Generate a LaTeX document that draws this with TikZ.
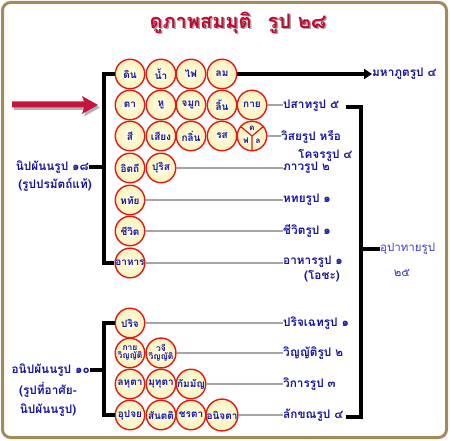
\documentclass[tikz,border=0pt]{standalone}
\usepackage{fontspec}
\newfontfamily\thai[Script=Thai]{Loma}
\usetikzlibrary{arrows.meta,calc}
\definecolor{lbl}{RGB}{20,20,160}
\definecolor{lbl2}{RGB}{60,60,210}
\definecolor{cin}{RGB}{255,255,235}
\definecolor{cout}{RGB}{248,242,185}
\definecolor{cred}{RGB}{225,25,25}
\definecolor{framec}{RGB}{160,140,90}
\definecolor{ttl}{RGB}{190,10,50}
\definecolor{gline}{RGB}{165,165,165}
\definecolor{arred}{RGB}{200,20,60}
\begin{document}
\begin{tikzpicture}[x=1pt,y=-1pt,
 cir/.style={circle,draw=cred,line width=1.4pt,inner color=cin,outer color=cout,minimum size=29.5pt,inner sep=0pt,text=lbl,font=\thai\bfseries\fontsize{10}{10}\selectfont},
 cir2/.style={cir,align=center,font=\thai\bfseries\fontsize{8.5}{8}\selectfont},
 lab/.style={anchor=west,text=lbl,font=\thai\bfseries\fontsize{11.8}{12}\selectfont,inner sep=0pt},
 labl/.style={lab,anchor=east},
 ctxt/.style={text=lbl,font=\thai\bfseries\fontsize{8}{8}\selectfont,inner sep=0pt},
 blk/.style={line width=4pt},
 gry/.style={draw=gline,line width=2pt}]
\useasboundingbox[fill=white] (0,0) rectangle (450,441);
\draw[framec,line width=3pt,rounded corners=8pt] (2.5,2.5) rectangle (446.5,437.5);
% title
\node[text=black!35,font=\thai\bfseries\fontsize{20}{22}\selectfont] at (239.5,24) {ดูภาพสมมุติ\hspace{0.8em}รูป ๒๘};
\node[text=ttl,font=\thai\bfseries\fontsize{20}{22}\selectfont] (title) at (238,22.5) {ดูภาพสมมุติ\hspace{0.8em}รูป ๒๘};
% red arrow with shadow
\fill[black!30] (14,104) -- (86,104) -- (84,98.5) -- (100,107.5) -- (84,116.5) -- (86,110) -- (14,110) -- cycle;
\fill[arred] (12,101.5) -- (84,101.5) -- (82,96) -- (98,105) -- (82,114) -- (84,107.5) -- (12,107.5) -- cycle;
% circles upper group
\node[cir] (din) at (130,74) {ดิน};
\node[cir] (nam) at (161,74) {น้ำ};
\node[cir] (fai) at (191,74) {ไฟ};
\node[cir] (lom) at (222,74) {ลม};
\node[cir] (ta) at (130,105) {ตา};
\node[cir] (hu) at (161,105) {หู};
\node[cir] (jamuk) at (191,105) {จมูก};
\node[cir] (lin) at (222,105) {ลิ้น};
\node[cir] (kai) at (252,105) {กาย};
\node[cir] (si) at (130,136) {สี};
\node[cir] (siang) at (161,136) {เสียง};
\node[cir] (klin) at (191,136) {กลิ่น};
\node[cir] (ros) at (222,136) {รส};
\node[cir] (pho) at (252,136) {};
\draw[cred,line width=1.2pt] (pho.center) -- (pho.140) (pho.center) -- (pho.40) (pho.center) -- (pho.270);
\node[ctxt] (phod) at ($(pho)+(0,-8)$) {ด};
\node[ctxt] (phof) at ($(pho)+(-6,5)$) {ฟ};
\node[ctxt] (phol) at ($(pho)+(6,5)$) {ล};
\node[cir] (itthi) at (130,168) {อิตถี};
\node[cir] (purisa) at (161,168) {ปุริส};
\node[cir] (hadaya) at (130,200) {หทัย};
\node[cir] (jivit) at (130,231) {ชีวิต};
\node[cir] (ahara) at (130,263) {อาหาร};
% circles lower group
\node[cir] (parij) at (130,323) {ปริจ};
\node[cir2] (kv) at (130,353) {กาย\\วิญญัติ};
\node[cir2] (vv) at (161,353) {วจี\\วิญญัติ};
\node[cir] (lahuta) at (130,384) {ลหุตา};
\node[cir] (muduta) at (161,384) {มุทุตา};
\node[cir] (kammanya) at (191,384) {กัมมัญ};
\node[cir] (upacaya) at (130,415) {อุปจย};
\node[cir] (santati) at (161,415) {สันตติ};
\node[cir] (jarata) at (191,415) {ชรตา};
\node[cir] (aniccata) at (222,415) {อนิจตา};
% right labels
\node[lab] (mahabhuta) at (372,74) {มหาภูตรูป ๔};
\node[lab] (pasada) at (283,106) {ปสาทรูป ๕};
\node[lab] (visaya) at (281,137) {วิสยรูป หรือ};
\node[lab] (gocara) at (298,155) {โคจรรูป ๔};
\node[lab] (bhava) at (283,168) {ภาวรูป ๒};
\node[lab] (hadayarupa) at (283,200) {หทยรูป ๑};
\node[lab] (jivitarupa) at (283,231) {ชีวิตรูป ๑};
\node[lab] (ahararupa) at (283,262) {อาหารรูป ๑};
\node[lab,anchor=center] (oja) at (322,276) {(โอชะ)};
\node[lab] (pariccheda) at (283,323) {ปริจเฉทรูป ๑};
\node[lab] (vinnatti) at (283,353) {วิญญัติรูป ๒};
\node[lab] (vikara) at (283,384) {วิการรูป ๓};
\node[lab] (lakkhana) at (283,415) {ลักขณรูป ๔};
\node[lab,text=lbl2,font=\thai\fontsize{11.5}{12}\selectfont] (upadaya) at (380,249) {อุปาทายรูป};
\node[lab,text=lbl2,font=\thai\fontsize{11.5}{12}\selectfont,anchor=center] (upadaya2) at (402,273) {๒๕};
% left labels
\node[labl] (nipph) at (89,167) {นิปผันนรูป ๑๘};
\node[lab,anchor=center] (nipph2) at (55,185) {(รูปปรมัตถ์แท้)};
\node[labl] (anipph) at (90,370) {อนิปผันนรูป ๑๐};
\node[lab,anchor=center] (anipph2) at (48,390) {(รูปที่อาศัย-};
\node[lab,anchor=center] (anipph3) at (48,410) {นิปผันนรูป)};
% brackets
\coordinate (ubt) at (104,74);
\coordinate (ubb) at (104,263);
\coordinate (lbt) at (104,323);
\coordinate (lbb) at (104,415);
\coordinate (rbt1) at (346,107);
\coordinate (rbt) at (361,107);
\coordinate (rbb) at (361,417);
\coordinate (rbb1) at (346,417);
\coordinate (rbm) at (361,249);
\draw[blk] (din.west) -- (ubt) -- (ubb) -- (ahara.west);
\draw[blk,-{Triangle[length=8pt,width=10pt]}] (lom.east) -- (mahabhuta.west);
\draw[blk] (nipph.east) -- (nipph.east -| ubt);
\draw[blk] (parij.west) -- (lbt) -- (lbb) -- (upacaya.west);
\draw[blk] (anipph.east) -- (anipph.east -| lbt);
\draw[blk] (rbt1) -- (rbt) -- (rbb) -- (rbb1);
\draw[blk] (rbm) -- (upadaya.west);
% gray connectors
\draw[gry] (kai.east) -- (kai.east -| pasada.west);
\draw[gry] (pho.east) -- (pho.east -| visaya.west);
\draw[gry] (purisa.east) -- (purisa.east -| bhava.west);
\draw[gry] (hadaya.east) -- (hadaya.east -| hadayarupa.west);
\draw[gry] (jivit.east) -- (jivit.east -| jivitarupa.west);
\draw[gry] (ahara.east) -- (ahara.east -| ahararupa.west);
\draw[gry] (parij.east) -- (parij.east -| pariccheda.west);
\draw[gry] (vv.east) -- (vv.east -| vinnatti.west);
\draw[gry] (kammanya.east) -- (kammanya.east -| vikara.west);
\draw[gry] (aniccata.east) -- (aniccata.east -| lakkhana.west);
\end{tikzpicture}
\end{document}
